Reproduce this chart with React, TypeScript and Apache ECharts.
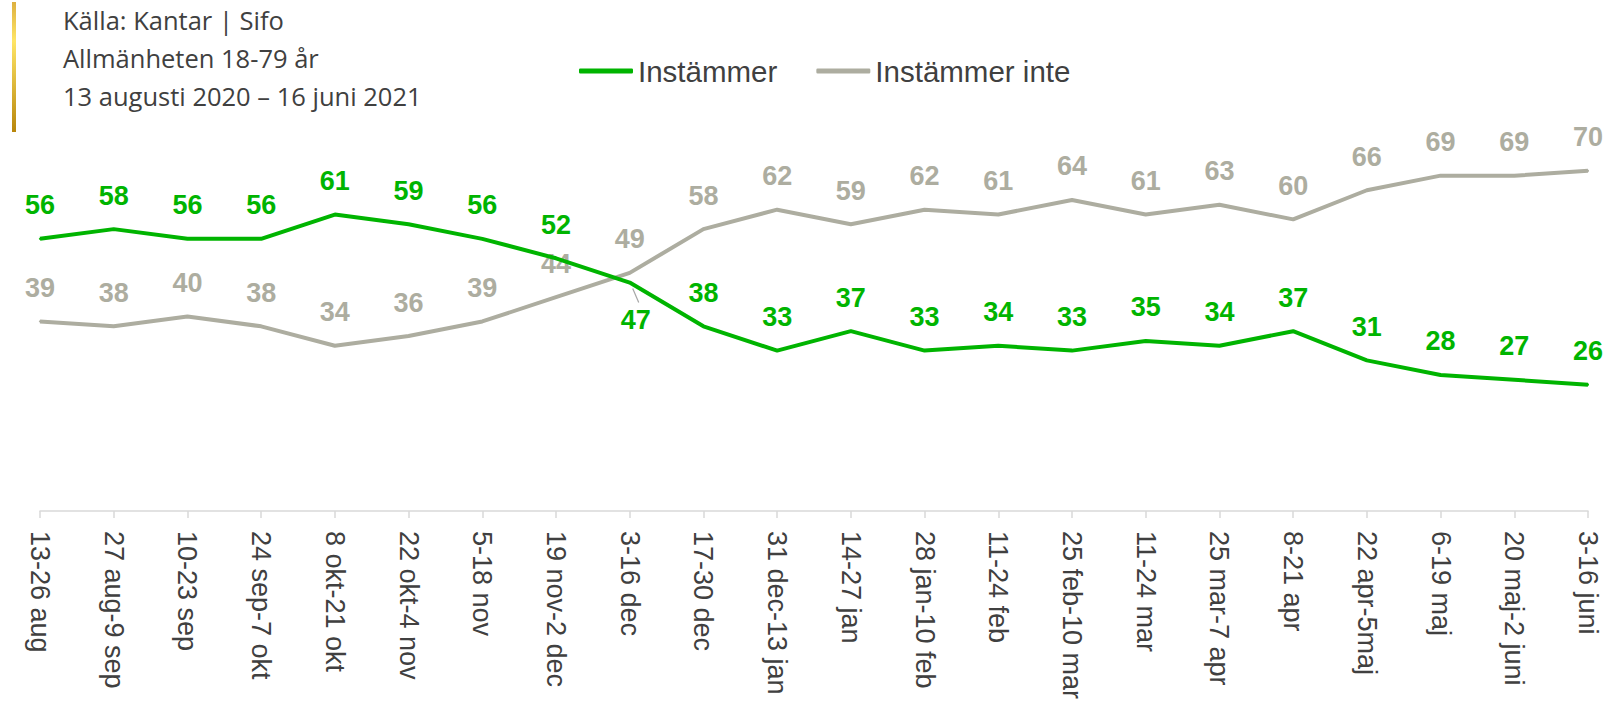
import React, { useEffect, useRef } from "react";
import * as echarts from "echarts";

const categories = [
  "13-26 aug", "27 aug-9 sep", "10-23 sep", "24 sep-7 okt", "8 okt-21 okt", "22 okt-4 nov",
  "5-18 nov", "19 nov-2 dec", "3-16 dec", "17-30 dec", "31 dec-13 jan", "14-27 jan",
  "28 jan-10 feb", "11-24 feb", "25 feb-10 mar", "11-24 mar", "25 mar-7 apr", "8-21 apr",
  "22 apr-5maj", "6-19 maj", "20 maj-2 juni", "3-16 juni",
];
const instammer = [56, 58, 56, 56, 61, 59, 56, 52, 47, 38, 33, 37, 33, 34, 33, 35, 34, 37, 31, 28, 27, 26];
const instammerInte = [39, 38, 40, 38, 34, 36, 39, 44, 49, 58, 62, 59, 62, 61, 64, 61, 63, 60, 66, 69, 69, 70];
const sourceLines = ["Källa: Kantar | Sifo", "Allmänheten 18-79 år", "13 augusti 2020 – 16 juni 2021"];
const belowLabelIndex = 8;

const GREEN = "#00B400";
const GRAY = "#ADADA0";
const TEXT = "#404040";
const FONT = "'Liberation Sans', Arial, sans-serif";

export default function App() {
  const ref = useRef<HTMLDivElement>(null);
  useEffect(() => {
    document.body.style.margin = "0";
    const chart = echarts.init(ref.current!, null, { renderer: "svg" });
    const greenData = instammer.map((v, i) =>
      i === belowLabelIndex
        ? { value: v, label: { position: "bottom", distance: 23, offset: [6, 0] } }
        : v
    );
    const labelBase = {
      show: true,
      position: "top",
      distance: 19,
      fontSize: 27,
      fontWeight: "bold",
      fontFamily: FONT,
    };
    chart.setOption({
      animation: false,
      backgroundColor: "#ffffff",
      grid: { left: 40, right: 20, top: 25, bottom: 199, containLabel: false },
      legend: {
        left: 574,
        top: 51,
        itemWidth: 54,
        itemHeight: 5,
        itemGap: 39,
        icon: "roundRect",
        textStyle: { fontSize: 29.5, color: TEXT, fontFamily: FONT },
        data: ["Instämmer", "Instämmer inte"],
      },
      xAxis: {
        type: "category",
        data: categories,
        boundaryGap: false,
        axisLine: { lineStyle: { color: "#D9D9D9", width: 1.5 } },
        axisTick: { show: true, length: 7, lineStyle: { color: "#D9D9D9", width: 1.5 } },
        axisLabel: {
          interval: 0,
          rotate: -90,
          margin: 20,
          fontSize: 27,
          color: TEXT,
          fontFamily: FONT,
        },
      },
      yAxis: { type: "value", min: 0, max: 100, show: false, splitLine: { show: false } },
      series: [
        {
          name: "Instämmer",
          type: "line",
          data: greenData,
          symbol: "circle",
          symbolSize: 2,
          lineStyle: { width: 4, color: GREEN },
          itemStyle: { color: GREEN },
          label: { ...labelBase, color: GREEN },
          z: 3,
        },
        {
          name: "Instämmer inte",
          type: "line",
          data: instammerInte,
          symbol: "circle",
          symbolSize: 2,
          lineStyle: { width: 4, color: GRAY },
          itemStyle: { color: GRAY },
          label: { ...labelBase, color: GRAY },
          z: 2,
        },
      ],
      graphic: [
        {
          id: "goldbar",
          type: "rect",
          shape: { x: 12, y: 2, width: 4, height: 130 },
          style: {
            fill: new echarts.graphic.LinearGradient(0, 0, 0, 1, [
              { offset: 0, color: "#DDB040" },
              { offset: 0.3, color: "#FFE566" },
              { offset: 1, color: "#B8860B" },
            ]),
          },
        },
        ...sourceLines.map((t, i) => ({
          id: "src" + i,
          type: "text",
          x: 63,
          y: 20 + i * 38,
          style: {
            text: t,
            fontSize: 25.5,
            fontFamily: "'Open Sans', sans-serif",
            fill: TEXT,
            verticalAlign: "middle",
          },
        })),
      ],
    });
    const p = chart.convertToPixel({ xAxisIndex: 0, yAxisIndex: 0 }, [belowLabelIndex, instammer[belowLabelIndex]]);
    chart.setOption({
      graphic: [
        {
          id: "leader",
          type: "line",
          shape: { x1: p[0] + 3, y1: p[1] + 6, x2: p[0] + 9, y2: p[1] + 20 },
          style: { stroke: "#A6A6A6", lineWidth: 1.2 },
        },
      ],
    });
    return () => chart.dispose();
  }, []);
  return <div ref={ref} style={{ position: "absolute", left: 0, top: 0, width: 1608, height: 710 }} />;
}
